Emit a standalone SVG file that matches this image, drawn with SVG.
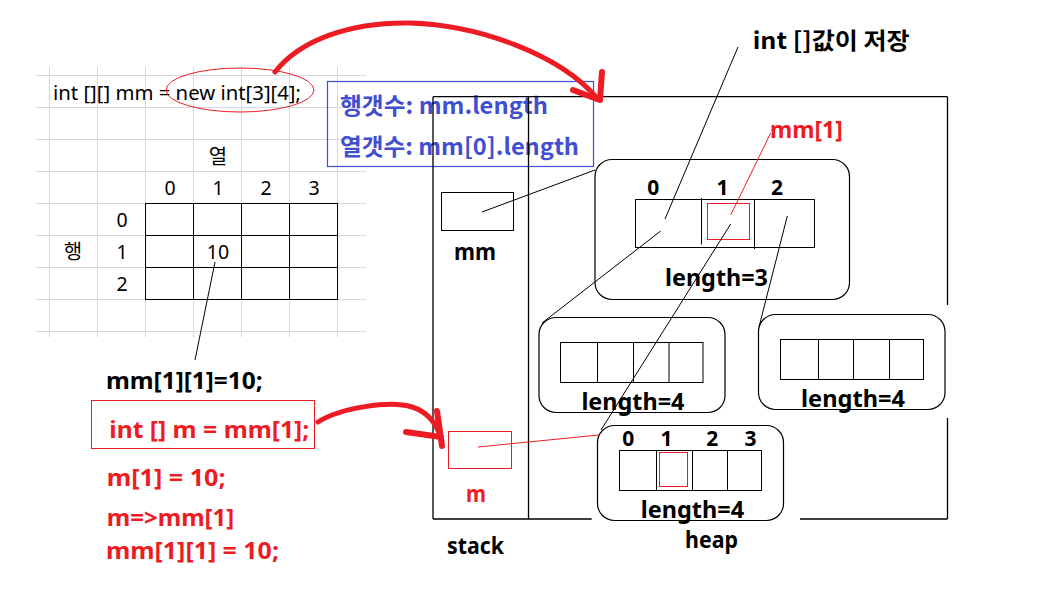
<svg xmlns="http://www.w3.org/2000/svg" width="1046" height="611" viewBox="0 0 1046 611">
<style>
.grid{stroke:#d5d8e0;stroke-width:1;fill:none}
.ln{stroke:#000;stroke-width:1;fill:none}
.rl{stroke:#ed1c24;stroke-width:1;fill:none}
.bx{stroke:#000;stroke-width:1.3;fill:none}
.rbx{stroke:#000;stroke-width:1.2;fill:none}
.arr{stroke:#ed1c24;fill:none;stroke-linecap:round;stroke-linejoin:round}
.reg{font-family:"Noto Sans","Noto Sans CJK KR",sans-serif;font-size:19.5px;fill:#000}
.kr{font-family:"Noto Sans CJK KR",sans-serif;font-size:20px;fill:#000}
.b{font-family:"Noto Sans","Noto Sans CJK KR",sans-serif;font-weight:700;font-size:24px;fill:#000}
.bk{font-family:"Noto Sans CJK KR",sans-serif;font-weight:700;font-size:23px;fill:#000}
.red{fill:#ed1c24}
.blue{fill:#3f4fcf}
.d{font-family:"Noto Sans",sans-serif;font-weight:700;font-size:21px;text-anchor:middle;fill:#000}
</style>

<g id="sheet-grid">
<path class="grid" d="M36,75.5H366M36,107.5H366M36,139.5H366M36,171.5H366M36,203.5H366M36,235.5H366M36,267.5H366M36,299.5H366M36,331.5H366"/>
<path class="grid" d="M49.5,67V337M97.5,67V337M145.5,67V337M193.5,67V337M241.5,67V337M289.5,67V337M337.5,67V337"/>
</g>

<g id="code-line">
<text class="reg" x="53" y="99.5" textLength="248" lengthAdjust="spacingAndGlyphs">int [][] mm = new int[3][4];</text>
<ellipse cx="240" cy="90" rx="74" ry="22" class="rl"/>
</g>

<g id="table">
<text class="kr" x="218" y="164" text-anchor="middle">열</text>
<text class="reg" x="170" y="195" text-anchor="middle">0</text>
<text class="reg" x="218" y="195" text-anchor="middle">1</text>
<text class="reg" x="266" y="195" text-anchor="middle">2</text>
<text class="reg" x="314" y="195" text-anchor="middle">3</text>
<text class="reg" x="122" y="226.7" text-anchor="middle">0</text>
<text class="reg" x="122" y="259" text-anchor="middle">1</text>
<text class="reg" x="122" y="290.7" text-anchor="middle">2</text>
<text class="kr" x="73" y="259" text-anchor="middle">행</text>
<rect x="145.5" y="203.5" width="192" height="96" class="ln"/>
<path class="ln" d="M193.5,203.5V299.5M241.5,203.5V299.5M289.5,203.5V299.5M145.5,235.5H337.5M145.5,267.5H337.5"/>
<text class="reg" x="218" y="259" text-anchor="middle">10</text>
</g>

<g id="info-box">
<rect x="327.5" y="81.5" width="266" height="85" fill="none" stroke="#3f4fcf" stroke-width="1.2"/>
<text class="bk blue" x="340" y="113.5" font-size="24" textLength="208" lengthAdjust="spacingAndGlyphs">행갯수: mm.length</text>
<text class="bk blue" x="340" y="154.5" font-size="24" textLength="239" lengthAdjust="spacingAndGlyphs">열갯수: mm[0].length</text>
</g>

<g id="memory-frame">
<path class="bx" d="M433,96.7H947.5M433,96.7V519M528.5,96.7V519M947.5,96.7V305M947.5,418V519M433,519H591.7M800,519H947.5"/>
<text class="b" x="447" y="554" textLength="57" lengthAdjust="spacingAndGlyphs">stack</text>
<text class="b" x="685" y="548" font-size="22" textLength="53" lengthAdjust="spacingAndGlyphs">heap</text>
</g>

<g id="var-mm">
<rect x="441.5" y="192.5" width="72" height="38" class="ln"/>
<text class="b" x="454" y="260" textLength="42" lengthAdjust="spacingAndGlyphs">mm</text>
</g>

<g id="var-m">
<rect x="448.5" y="431.5" width="63" height="37" class="rl"/>
<text class="b red" x="466" y="501.7" textLength="20" lengthAdjust="spacingAndGlyphs">m</text>
</g>

<g id="array-outer">
<rect x="595" y="159.5" width="254.5" height="140" rx="17" class="rbx"/>
<rect x="635.5" y="199.5" width="179" height="48" class="ln"/>
<path class="ln" d="M701.5,198V244.5M754.5,200V249"/>
<rect x="707.5" y="203.5" width="42" height="36" class="rl"/>
<text class="d" x="653.3" y="195">0</text>
<text class="d" x="722.5" y="195">1</text>
<text class="d" x="777" y="195">2</text>
<text class="b" x="665" y="285.7" textLength="103" lengthAdjust="spacingAndGlyphs">length=3</text>
</g>

<g id="array-row0">
<rect x="539" y="317.5" width="186" height="95" rx="17" class="rbx"/>
<rect x="560.5" y="342.5" width="142.5" height="40" class="ln"/>
<path class="ln" d="M597.5,342.5V382.5M633.5,342.5V382.5M669,342.5V382.5"/>
<text class="b" x="581.4" y="410" textLength="103" lengthAdjust="spacingAndGlyphs">length=4</text>
</g>

<g id="array-row2">
<rect x="758.5" y="314.5" width="186.5" height="95" rx="17" class="rbx"/>
<rect x="780.5" y="339.5" width="143" height="40" class="ln"/>
<path class="ln" d="M818.5,339.5V379.5M853.5,339.5V379.5M889.5,339.5V379.5"/>
<text class="b" x="801" y="406.7" textLength="104" lengthAdjust="spacingAndGlyphs">length=4</text>
</g>

<g id="array-row1">
<rect x="597.5" y="425.5" width="186" height="95" rx="17" class="rbx"/>
<rect x="619.5" y="450.5" width="142" height="40" class="ln"/>
<path class="ln" d="M656.5,450.5V490.5M692.5,450.5V490.5M727.5,450.5V490.5"/>
<rect x="659.5" y="452.5" width="28" height="34" class="rl"/>
<text class="d" x="628.3" y="445.7">0</text>
<text class="d" x="666.5" y="445.7">1</text>
<text class="d" x="712.2" y="445.7">2</text>
<text class="d" x="750.5" y="445.7">3</text>
<text class="b" x="640.7" y="517.5" font-size="23" textLength="103.4" lengthAdjust="spacingAndGlyphs">length=4</text>
</g>

<g id="labels">
<text class="bk" x="752.7" y="49.3" textLength="157" lengthAdjust="spacingAndGlyphs">int []값이 저장</text>
<text class="b red" x="770" y="138.3" textLength="72.7" lengthAdjust="spacingAndGlyphs">mm[1]</text>
</g>

<g id="code-lines">
<text class="b" x="106" y="389.3" font-size="23" textLength="156.7" lengthAdjust="spacingAndGlyphs">mm[1][1]=10;</text>
<rect x="91.5" y="400.5" width="223" height="48" class="rl"/>
<text class="b red" x="109.3" y="437.7" font-size="23" textLength="200" lengthAdjust="spacingAndGlyphs">int [] m = mm[1];</text>
<text class="b red" x="106.7" y="485.7" font-size="23" textLength="119" lengthAdjust="spacingAndGlyphs">m[1] = 10;</text>
<text class="b red" x="106.7" y="525.7" font-size="23" textLength="127.6" lengthAdjust="spacingAndGlyphs">m=&gt;mm[1]</text>
<text class="b red" x="106" y="559" font-size="23" textLength="173" lengthAdjust="spacingAndGlyphs">mm[1][1] = 10;</text>
</g>

<g id="connectors">
<line class="ln" x1="215" y1="262" x2="195" y2="360"/>
<line class="ln" x1="482" y1="212" x2="595" y2="170"/>
<line class="ln" x1="665" y1="219" x2="738" y2="47"/>
<line class="rl" x1="770.7" y1="133" x2="730.7" y2="215"/>
<line class="ln" x1="660.7" y1="231" x2="542" y2="323"/>
<line class="ln" x1="730.7" y1="224" x2="601" y2="430"/>
<line class="ln" x1="787.3" y1="216" x2="759" y2="327"/>
<line class="rl" x1="478" y1="447" x2="599" y2="435"/>
<path class="arr" stroke-width="5" d="M275,72 C300,40 350,22 410,23 C480,25 560,55 597,98"/>
<path class="arr" stroke-width="6" d="M573,90 L597,99 M602,72 L600,100"/>
<path class="arr" stroke-width="5" d="M318,422 C340,408 390,400 412,407 C428,412 437,425 441,438"/>
<path class="arr" stroke-width="6" d="M437,411 L442,446 M406,432 L441,437"/>
</g>
</svg>
